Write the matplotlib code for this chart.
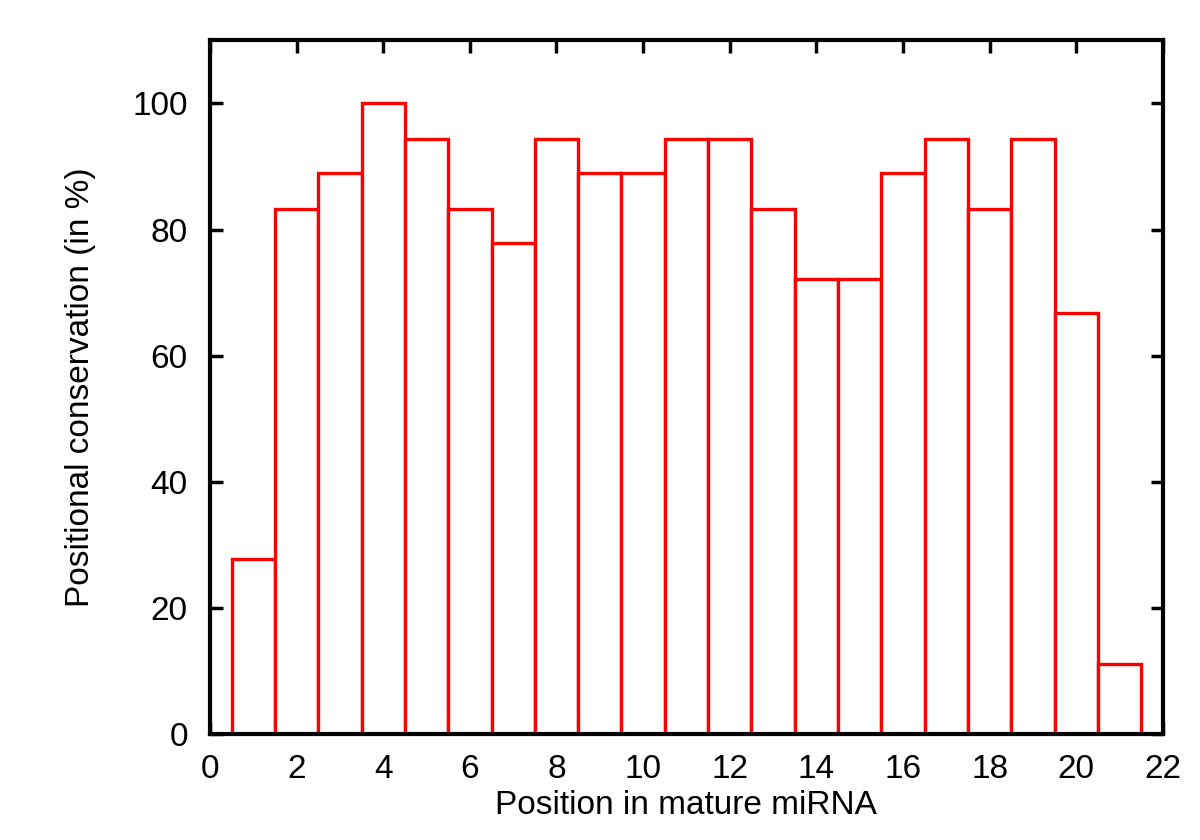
import matplotlib
matplotlib.use("Agg")
import matplotlib.pyplot as plt

positions = list(range(1, 22))
conservation = [27.8, 83.3, 88.9, 100.0, 94.4, 83.3, 77.8, 94.4, 88.9, 88.9, 94.4,
                94.4, 83.3, 72.2, 72.2, 88.9, 94.4, 83.3, 94.4, 66.7, 11.1]
xticks = list(range(0, 23, 2))
yticks = list(range(0, 101, 20))

plt.rcParams['font.family'] = ['Liberation Sans', 'DejaVu Sans']
fig = plt.figure(figsize=(12, 8.4), dpi=100)
ax = fig.add_axes([0.175, 0.126, 0.794, 0.826])

ax.bar(positions, conservation, width=1.0, facecolor='white', edgecolor='#ff0000',
       linewidth=2.4, zorder=2)

ax.set_xlim(0, 22)
ax.set_ylim(0, 110)
ax.set_xticks(xticks)
ax.set_yticks(yticks)
ax.tick_params(direction='in', length=9, width=2.5, labelsize=24,
               top=True, right=True, labeltop=False, labelright=False)
ax.tick_params(axis='x', pad=14)
ax.tick_params(axis='y', pad=16)
for s in ax.spines.values():
    s.set_linewidth(3)
    s.set_zorder(5)
ax.set_xlabel('Position in mature miRNA', fontsize=24, labelpad=4)
ax.set_ylabel('Positional conservation (in %)', fontsize=24, labelpad=26)

fig.savefig('out.png', dpi=100)
